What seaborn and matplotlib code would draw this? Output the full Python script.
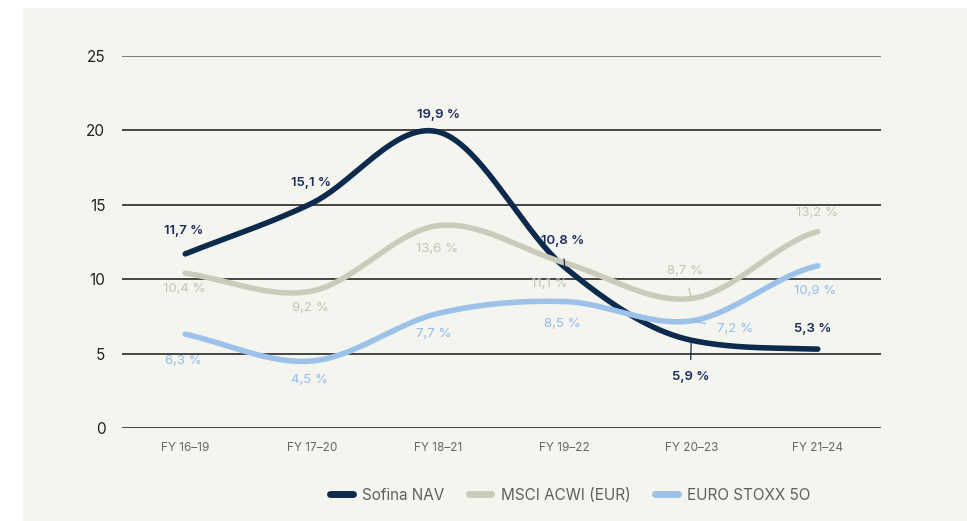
import numpy as np
import pandas as pd
import matplotlib
matplotlib.use("Agg")
import matplotlib.pyplot as plt
import seaborn as sns
from matplotlib.patches import Rectangle

# --- data ---
periods = ["FY 16–19", "FY 17–20", "FY 18–21", "FY 19–22", "FY 20–23", "FY 21–24"]
sofina = [11.7, 15.1, 19.9, 10.8, 5.9, 5.3]
msci = [10.4, 9.2, 13.6, 11.1, 8.7, 13.2]
stoxx = [6.3, 4.5, 7.7, 8.5, 7.2, 10.9]
series_names = ["Sofina NAV", "MSCI ACWI (EUR)", "EURO STOXX 5O"]
colors = ["#0c2a4b", "#cacbbb", "#9cc2ea"]
label_colors = ["#1a2b5c", "#c3c4b2", "#93bce8"]

# label offsets (pixels) and whether a leader line is drawn
offsets = [
    [(-2, 23), (-1, 20), (0, 17), (-2, 26), (-1, -37), (-5, 20)],
    [(-1, -16), (-1, -17), (-1, -23), (-15, -21), (-6, 28), (-1, 19)],
    [(-2, -27), (-2, -19), (-4, -21), (-2, -22), (44, -8), (-3, -25)],
]
leaders = {(0, 3), (0, 4), (1, 4), (2, 4)}


def smooth(vals, n=40):
    # Catmull-Rom style hermite curve through the points, for drawing only
    p = np.asarray(vals, dtype=float)
    d = np.diff(p)
    m = np.zeros_like(p)
    m[1:-1] = (p[2:] - p[:-2]) / 2
    m[0] = d[0]
    m[-1] = d[-1]
    # soften tangents next to a flat segment to avoid overshoot
    for i in range(1, len(p) - 1):
        if d[i - 1] * d[i] > 0:
            lim = 3 * min(abs(d[i - 1]), abs(d[i]))
            m[i] = np.sign(m[i]) * min(abs(m[i]), lim)
    m[-1] = d[-1] * 0.5
    xs, ys = [], []
    for i in range(len(p) - 1):
        t = np.linspace(0, 1, n, endpoint=(i == len(p) - 2))
        h00 = 2 * t**3 - 3 * t**2 + 1
        h10 = t**3 - 2 * t**2 + t
        h01 = -2 * t**3 + 3 * t**2
        h11 = t**3 - t**2
        xs.append(i + t)
        ys.append(h00 * p[i] + h10 * m[i] + h01 * p[i + 1] + h11 * m[i + 1])
    return np.concatenate(xs), np.concatenate(ys)


frames = []
for name, vals in zip(series_names, [sofina, msci, stoxx]):
    x, y = smooth(vals)
    frames.append(pd.DataFrame({"x": x, "y": y, "series": name}))
df = pd.concat(frames, ignore_index=True)

sns.set_theme(style="white")
plt.rcParams["font.family"] = ["Inter", "DejaVu Sans"]

fig = plt.figure(figsize=(9.67, 5.21), dpi=100, facecolor="white")
fig.patches.append(Rectangle((23 / 967, 0), 1, 513 / 521, transform=fig.transFigure,
                             facecolor="#f5f5f0", edgecolor="none", zorder=-10))
ax = fig.add_axes([122 / 967, 93 / 521, 759 / 967, 372 / 521])
ax.set_facecolor("none")
ax.set_zorder(1)

sns.lineplot(data=df, x="x", y="y", hue="series", palette=colors, sort=False,
             linewidth=4, solid_capstyle="round", ax=ax, legend=True, zorder=3)

ax.set_xlim(-0.5, 5.5)
ax.set_ylim(0, 25)
ax.set_xticks(range(len(periods)))
ax.set_xticklabels(periods, color="#666666", fontsize=8.5)
ax.set_yticks([0, 5, 10, 15, 20, 25])
ax.set_yticklabels(["0", "5", "10", "15", "20", "25"], color="#222222", fontsize=11)
ax.tick_params(axis="y", length=0, pad=12)
ax.tick_params(axis="x", length=0, pad=10)
ax.set_xlabel("")
ax.set_ylabel("")
for s in ax.spines.values():
    s.set_visible(False)
for v in [0, 5, 10, 15, 20]:
    ax.axhline(v, color="#151515", lw=1.1, zorder=1)
ax.axhline(25, color="#6e6e6e", lw=1.3, zorder=1)

# value labels
for si, vals in enumerate([sofina, msci, stoxx]):
    for i, v in enumerate(vals):
        dx, dy = offsets[si][i]
        txt = f"{v:.1f}".replace(".", ",") + " %"
        arrow = None
        if (si, i) in leaders:
            arrow = dict(arrowstyle="-", color=label_colors[si] if si else "#1a2b5c",
                         lw=0.9, shrinkA=6, shrinkB=1)
        ax.annotate(txt, xy=(i, v), xytext=(dx, dy), textcoords="offset pixels",
                    ha="center", va="center", fontsize=9.5, color=label_colors[si],
                    fontweight="semibold" if si == 0 else "normal",
                    arrowprops=arrow, annotation_clip=False, zorder=4)

# legend
leg = ax.legend(loc="center", bbox_to_anchor=(570 / 967, 26 / 521),
                bbox_transform=fig.transFigure, ncol=3, frameon=False,
                fontsize=11, handlelength=1.5, handletextpad=0.6, columnspacing=1.6)
for line in leg.get_lines():
    line.set_linewidth(5)
    line.set_solid_capstyle("round")
for t in leg.get_texts():
    t.set_color("#5f5f5f")

fig.savefig("out.png", dpi=100, facecolor="white")
